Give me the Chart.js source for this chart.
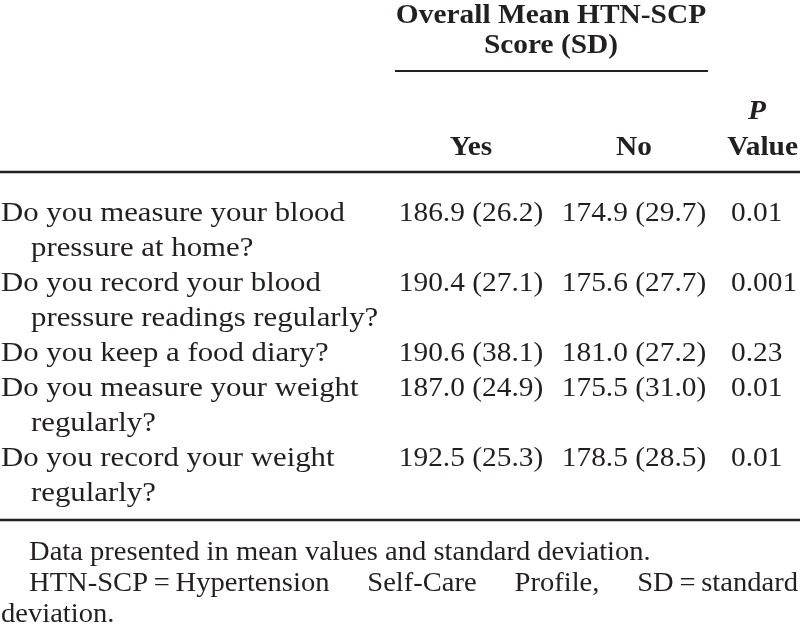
<!DOCTYPE html>
<html>
<head>
<meta charset="utf-8">
<script src="https://cdn.jsdelivr.net/npm/chart.js@4"></script>
<style>
  html, body { margin: 0; padding: 0; background: #fff; font-family: "Liberation Serif", serif; }
  canvas { display: block; }
  .aquece { position: absolute; left: -9999px; top: 0; }
</style>
</head>
<body>
<span class="aquece">Aa <b>Bb</b> <b><i>P</i></b></span>
<canvas id="tabela" width="800" height="625"></canvas>
<script>
// table content
const questions = [
    ["Do you measure your blood", "pressure at home?"],
    ["Do you record your blood", "pressure readings regularly?"],
    ["Do you keep a food diary?"],
    ["Do you measure your weight", "regularly?"],
    ["Do you record your weight", "regularly?"]
];
const yesMean = [186.9, 190.4, 190.6, 187.0, 192.5];
const yesSD = [26.2, 27.1, 38.1, 24.9, 25.3];
const noMean = [174.9, 175.6, 181.0, 175.5, 178.5];
const noSD = [29.7, 27.7, 27.2, 31.0, 28.5];
const pValues = ["0.01", "0.001", "0.23", "0.01", "0.01"];

const groupHeader = ["Overall Mean HTN-SCP", "Score (SD)"];
const colHeaders = ["Yes", "No", "Value"];
const footnotes = [
    "Data presented in mean values and standard deviation.",
    "HTN-SCP\u2009=\u2009Hypertension Self-Care Profile, SD\u2009=\u2009standard",
    "deviation."
];

const ink = "#231f20";
const serif = "Liberation Serif, Times New Roman, Times, serif";

function texto(ctx, str, x, y, align, font, sx) {
    ctx.save();
    ctx.font = font;
    const w = ctx.measureText(str).width * sx;
    let left = x;
    if (align === "center") left = x - w / 2;
    if (align === "right") left = x - w;
    ctx.translate(left, y);
    ctx.scale(sx, 1);
    ctx.textAlign = "left";
    ctx.textBaseline = "alphabetic";
    ctx.fillStyle = ink;
    ctx.fillText(str, 0, 0);
    ctx.restore();
    return w;
}

function linha(ctx, x1, x2, y, lw) {
    ctx.save();
    ctx.strokeStyle = ink;
    ctx.lineWidth = lw;
    ctx.beginPath();
    ctx.moveTo(x1, y);
    ctx.lineTo(x2, y);
    ctx.stroke();
    ctx.restore();
}

function justificado(ctx, str, x1, x2, y, font, sx) {
    const words = str.split(" ");
    ctx.save();
    ctx.font = font;
    const widths = words.map(w => ctx.measureText(w).width * sx);
    ctx.restore();
    const total = widths.reduce((a, b) => a + b, 0);
    const gap = (x2 - x1 - total) / (words.length - 1);
    let x = x1;
    words.forEach((w, i) => {
        texto(ctx, w, x, y, "left", font, sx);
        x += widths[i] + gap;
    });
}

const tablePlugin = {
    id: "tablePlugin",
    afterDraw(chart) {
        const ctx = chart.ctx;
        const xs = chart.scales.x;
        const ys = chart.scales.y;
        const px = v => xs.getPixelForValue(v);
        const py = v => ys.getPixelForValue(v);

        const bodyFont = "28px " + serif;
        const boldFont = "bold 28px " + serif;
        const italFont = "italic bold 28px " + serif;
        const noteFont = "28px " + serif;
        const sxBody = 1.1, sxNum = 1.05, sxHead = 1.05, sxNote = 1.02;

        const colYes = 471, colNo = 634, colP = 731, colPHead = 757;

        // header
        texto(ctx, groupHeader[0], px(551), py(23), "center", boldFont, sxHead);
        texto(ctx, groupHeader[1], px(551), py(53), "center", boldFont, sxHead);
        linha(ctx, px(395), px(708), py(71), 2);
        texto(ctx, "P", px(colPHead), py(119), "center", italFont, sxHead);
        texto(ctx, colHeaders[0], px(colYes), py(155), "center", boldFont, sxHead);
        texto(ctx, colHeaders[1], px(colNo), py(155), "center", boldFont, sxHead);
        texto(ctx, colHeaders[2], px(798), py(155), "right", boldFont, sxHead);
        linha(ctx, px(0), px(800), py(172), 2.5);

        // body rows
        let base = 221;
        const pitch = 35;
        questions.forEach((q, i) => {
            q.forEach((t, j) => {
                texto(ctx, t, px(j === 0 ? 1 : 31), py(base + j * pitch), "left", bodyFont, sxBody);
            });
            const yes = yesMean[i].toFixed(1) + " (" + yesSD[i].toFixed(1) + ")";
            const no = noMean[i].toFixed(1) + " (" + noSD[i].toFixed(1) + ")";
            texto(ctx, yes, px(colYes), py(base), "center", bodyFont, sxNum);
            texto(ctx, no, px(colNo), py(base), "center", bodyFont, sxNum);
            texto(ctx, pValues[i], px(colP), py(base), "left", bodyFont, sxNum);
            base += q.length * pitch;
        });
        linha(ctx, px(0), px(800), py(520), 2.5);

        // footnotes
        texto(ctx, footnotes[0], px(29), py(560), "left", noteFont, sxNote);
        justificado(ctx, footnotes[1], px(29), px(798), py(591), noteFont, sxNote);
        texto(ctx, footnotes[2], px(1), py(622), "left", noteFont, sxNote);
    }
};

function desenhar() {
    new Chart(document.getElementById("tabela"), {
        type: "scatter",
        data: { datasets: [{ data: [] }] },
        options: {
            responsive: false,
            animation: false,
            layout: { padding: 0 },
            plugins: { legend: { display: false }, tooltip: { enabled: false } },
            scales: {
                x: { type: "linear", min: 0, max: 800, display: false },
                y: { type: "linear", min: 0, max: 625, reverse: true, display: false }
            }
        },
        plugins: [tablePlugin, {
            id: "fundo",
            beforeDraw(chart) {
                const c = chart.ctx;
                c.save();
                c.fillStyle = "#fff";
                c.fillRect(0, 0, chart.width, chart.height);
                c.restore();
            }
        }]
    });
}

const fontes = ["28px Liberation Serif", "bold 28px Liberation Serif", "italic bold 28px Liberation Serif"];
if (document.fonts && document.fonts.load) {
    Promise.all(fontes.map(f => document.fonts.load(f))).then(desenhar, desenhar);
} else {
    desenhar();
}
</script>
</body>
</html>
